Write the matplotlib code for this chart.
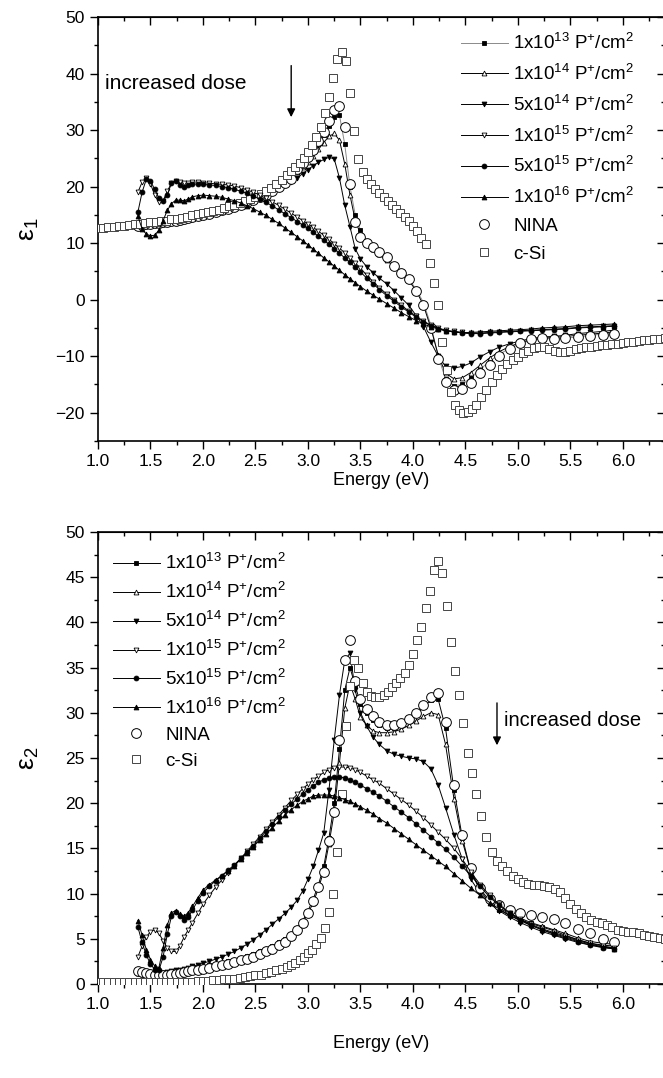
import numpy as np
import matplotlib
matplotlib.use('Agg')
import matplotlib.pyplot as plt
from matplotlib.ticker import MultipleLocator, FormatStrFormatter

plt.rcParams['font.family'] = ['Liberation Sans', 'DejaVu Sans']
plt.rcParams['mathtext.fontset'] = 'custom'
plt.rcParams['mathtext.rm'] = 'Liberation Sans'
plt.rcParams['mathtext.it'] = 'Liberation Sans:italic'
plt.rcParams['mathtext.default'] = 'regular'

# energy grid of the implanted / NINA spectra (eV)
e_imp = [1.38, 1.42, 1.46, 1.50, 1.54, 1.58, 1.62, 1.66, 1.70, 1.74, 1.78, 1.82, 1.86, 1.90,
         1.95, 2.00,
         2.06, 2.12, 2.18, 2.24, 2.30, 2.36, 2.42, 2.48, 2.54, 2.60, 2.66, 2.72, 2.78, 2.84,
         2.90, 2.95, 3.00, 3.05, 3.10, 3.15, 3.20, 3.25, 3.30, 3.35, 3.40, 3.45, 3.50,
         3.56, 3.62, 3.68,
         3.75, 3.82, 3.89, 3.96, 4.03, 4.10, 4.17, 4.24, 4.31,
         4.39, 4.47, 4.55, 4.64, 4.73, 4.82, 4.92, 5.02, 5.12, 5.23, 5.34, 5.45, 5.57, 5.69, 5.81, 5.91]

# energy grid of the c-Si reference (eV)
e_csi = [1.00, 1.05, 1.10, 1.15, 1.20, 1.25, 1.30, 1.35, 1.40, 1.45, 1.50, 1.55, 1.60, 1.65, 1.70,
         1.75, 1.80, 1.85, 1.90, 1.95, 2.00, 2.05, 2.10, 2.15, 2.20, 2.25, 2.30, 2.35, 2.40, 2.45,
         2.50, 2.55, 2.60, 2.65, 2.70, 2.75, 2.80,
         2.84, 2.88, 2.92, 2.96, 3.00, 3.04, 3.08, 3.12, 3.16, 3.20, 3.24, 3.28, 3.32, 3.36, 3.40,
         3.44, 3.48, 3.52, 3.56, 3.60, 3.64, 3.68, 3.72, 3.76, 3.80, 3.84, 3.88, 3.92, 3.96, 4.00,
         4.04, 4.08, 4.12, 4.16, 4.20, 4.24, 4.28, 4.32, 4.36, 4.40, 4.44, 4.48, 4.52, 4.56, 4.60,
         4.65, 4.70, 4.75, 4.80, 4.85, 4.90, 4.95, 5.00, 5.05, 5.10, 5.15, 5.20, 5.25, 5.30, 5.35,
         5.40, 5.45, 5.50, 5.55, 5.60, 5.65, 5.70, 5.75, 5.80, 5.85, 5.90, 5.95, 6.00, 6.05, 6.10,
         6.15, 6.20, 6.25, 6.30, 6.35, 6.40]

# ---- epsilon 1 ----
eps1_1e13 = [13.1, 13.2, 13.3, 13.4, 13.5, 13.6, 13.7, 13.8, 13.9, 14.0, 14.1, 14.25, 14.4, 14.55,
             14.75, 14.95,
             15.2, 15.5, 15.8, 16.1, 16.4, 16.8, 17.2, 17.6, 18.1, 18.6, 19.2, 19.9, 20.6, 21.4,
             22.9, 23.8, 24.9, 26.1, 27.5, 29.1, 30.8, 32.3, 32.6, 27.5, 20.0, 15.0, 12.3,
             10.3, 9.4, 8.5,
             7.4, 6.2, 5.0, 3.7, 1.8, -0.5, -4.5, -10.0, -14.0,
             -15.2, -15.0, -13.8, -12.3, -10.9, -9.7, -8.6, -7.8, -7.2, -6.9, -6.9, -6.8, -6.6, -6.3, -6.1, -5.9]
eps1_1e14 = [13.1, 13.2, 13.3, 13.4, 13.5, 13.6, 13.7, 13.8, 13.9, 14.0, 14.1, 14.25, 14.4, 14.55,
             14.75, 14.95,
             15.2, 15.5, 15.8, 16.1, 16.4, 16.8, 17.2, 17.6, 18.1, 18.6, 19.2, 19.9, 20.6, 21.4,
             22.6, 23.4, 24.3, 25.4, 26.6, 27.8, 28.9, 29.4, 28.2, 24.0, 18.5, 14.0, 11.6,
             9.8, 8.9, 8.0,
             7.0, 5.9, 4.7, 3.4, 1.6, -1.0, -5.0, -9.8, -13.0,
             -14.0, -13.8, -12.9, -11.6, -10.3, -9.2, -8.3, -7.6, -7.1, -6.8, -6.7, -6.5, -6.3, -6.1, -5.9, -5.7]
eps1_5e14 = [13.1, 13.2, 13.3, 13.4, 13.5, 13.6, 13.7, 13.8, 13.9, 14.0, 14.1, 14.25, 14.4, 14.55,
             14.75, 14.95,
             15.2, 15.5, 15.8, 16.1, 16.4, 16.8, 17.2, 17.6, 18.0, 18.5, 19.0, 19.6, 20.2, 20.9,
             21.6, 22.3, 23.0, 23.7, 24.3, 24.8, 25.2, 24.9, 21.5, 16.7, 12.9, 9.0, 7.2,
             5.8, 4.8, 3.8,
             2.8, 1.6, 0.3, -1.0, -2.8, -4.8, -7.5, -10.0, -11.8,
             -12.1, -11.8, -11.2, -10.1, -9.2, -8.4, -7.8, -7.3, -6.9, -6.6, -6.5, -6.3, -6.0, -5.8, -5.6, -5.4]
eps1_1e15 = [19.0, 20.8, 21.5, 20.5, 18.5, 17.2, 17.5, 19.2, 20.6, 21.0, 20.8, 20.6, 20.7, 20.8,
             20.8, 20.7,
             20.6, 20.5, 20.4, 20.3, 20.1, 19.8, 19.4, 19.0, 18.5, 17.9, 17.3, 16.7, 16.0, 15.3,
             14.6, 14.0, 13.4, 12.8, 12.1, 11.4, 10.7, 9.9, 9.1, 8.3, 7.4, 6.5, 5.6,
             4.3, 3.2, 2.1,
             1.0, 0.0, -1.0, -2.0, -2.9, -3.8, -4.5, -5.0, -5.4,
             -5.6, -5.8, -5.9, -5.9, -5.8, -5.7, -5.6, -5.5, -5.4, -5.3, -5.2, -5.1, -4.9, -4.8, -4.7, -4.6]
eps1_5e15 = [15.5, 19.0, 21.3, 21.0, 19.5, 18.0, 17.4, 18.6, 20.6, 21.0, 20.3, 20.0, 20.2, 20.4,
             20.5, 20.4,
             20.3, 20.2, 20.0, 19.8, 19.5, 19.2, 18.8, 18.3, 17.8, 17.2, 16.6, 15.9, 15.2, 14.5,
             13.8, 13.2, 12.6, 11.9, 11.2, 10.5, 9.8, 9.0, 8.2, 7.4, 6.6, 5.7, 4.9,
             3.8, 2.8, 1.8,
             0.7, -0.3, -1.3, -2.2, -3.1, -3.9, -4.6, -5.1, -5.5,
             -5.7, -5.9, -6.0, -6.0, -5.9, -5.8, -5.7, -5.6, -5.5, -5.4, -5.3, -5.2, -5.0, -4.9, -4.8, -4.7]
eps1_1e16 = [14.8, 12.5, 11.6, 11.3, 11.4, 12.3, 14.0, 15.8, 17.0, 17.6, 17.6, 17.5, 17.8, 18.2,
             18.4, 18.5,
             18.4, 18.3, 18.1, 17.8, 17.5, 17.1, 16.6, 16.1, 15.5, 14.9, 14.2, 13.5, 12.7, 11.9,
             11.1, 10.4, 9.7, 8.9, 8.2, 7.4, 6.7, 5.9, 5.2, 4.4, 3.7, 3.0, 2.3,
             1.5, 0.8, 0.1,
             -0.7, -1.5, -2.3, -3.0, -3.7, -4.3, -4.8, -5.2, -5.5,
             -5.7, -5.8, -5.8, -5.7, -5.6, -5.5, -5.4, -5.3, -5.2, -5.0, -4.9, -4.8, -4.6, -4.5, -4.4, -4.3]
eps1_nina = [13.1, 13.2, 13.3, 13.4, 13.5, 13.6, 13.7, 13.8, 13.9, 14.0, 14.1, 14.25, 14.4, 14.55,
             14.75, 14.95,
             15.2, 15.5, 15.8, 16.1, 16.4, 16.8, 17.2, 17.6, 18.1, 18.6, 19.2, 19.9, 20.6, 21.4,
             23.2, 24.1, 25.2, 26.5, 28.0, 29.7, 31.6, 33.5, 34.3, 30.5, 20.5, 13.8, 11.1,
             10.1, 9.3, 8.5,
             7.6, 6.0, 4.8, 3.6, 1.5, -1.0, -5.0, -10.5, -14.5,
             -16.0, -15.8, -14.8, -13.0, -11.5, -10.0, -8.7, -7.7, -7.0, -6.8, -7.0, -6.8, -6.6, -6.4, -6.2, -6.0]
eps1_csi = [12.6, 12.7, 12.8, 12.9, 13.0, 13.1, 13.2, 13.3, 13.4, 13.5, 13.7, 13.8, 13.9, 14.0, 14.2,
            14.3, 14.5, 14.7, 14.9, 15.1, 15.3, 15.5, 15.7, 15.9, 16.2, 16.5, 16.8, 17.1, 17.4, 17.8,
            18.2, 18.7, 19.2, 19.8, 20.5, 21.2, 22.0,
            22.7, 23.4, 24.2, 25.1, 26.1, 27.3, 28.7, 30.5, 33.0, 35.8, 39.2, 42.5, 43.9, 42.3, 36.5,
            29.8, 24.9, 22.6, 21.3, 20.4, 19.6, 18.9, 18.2, 17.5, 16.8, 16.1, 15.3, 14.6, 13.9, 13.1,
            12.2, 11.0, 9.8, 6.5, 3.0, -1.0, -7.5, -12.5, -16.3, -18.6, -19.6, -20.0, -19.9, -19.4, -18.6,
            -17.2, -15.9, -14.5, -13.3, -12.2, -11.4, -10.7, -10.1, -9.5, -9.0, -8.6, -8.3, -8.4, -8.8, -9.0,
            -9.2, -9.2, -9.0, -8.8, -8.6, -8.4, -8.3, -8.2, -8.1, -8.0, -7.9, -7.8, -7.6, -7.5, -7.4,
            -7.3, -7.2, -7.1, -7.0, -6.9, -6.8]

# ---- epsilon 2 ----
eps2_1e13 = [1.2, 1.1, 1.05, 1.0, 1.0, 1.05, 1.1, 1.15, 1.2, 1.3, 1.4, 1.5, 1.6, 1.7,
             1.8, 1.9,
             2.05, 2.2, 2.35, 2.5, 2.7, 2.9, 3.1, 3.35, 3.6, 3.9, 4.2, 4.6, 5.0, 5.5,
             6.2, 7.0, 8.1, 9.4, 11.0, 13.0, 16.2, 20.0, 26.0, 32.5, 35.0, 33.0, 31.0,
             30.0, 29.2, 28.6,
             28.3, 28.3, 28.6, 29.1, 29.8, 30.6, 31.4, 31.5, 28.3,
             21.5, 16.2, 12.5, 10.3, 9.0, 8.2, 7.6, 7.1, 6.7, 6.3, 5.9, 5.4, 4.9, 4.5, 4.3, 4.2]
eps2_1e14 = [1.2, 1.1, 1.05, 1.0, 1.0, 1.05, 1.1, 1.15, 1.2, 1.3, 1.4, 1.5, 1.6, 1.7,
             1.8, 1.9,
             2.05, 2.2, 2.35, 2.5, 2.7, 2.9, 3.1, 3.35, 3.6, 3.9, 4.2, 4.6, 5.0, 5.5,
             6.0, 6.8, 7.8, 9.0, 10.6, 12.5, 15.5, 19.0, 24.5, 30.5, 33.2, 31.5, 29.5,
             28.6, 28.0, 27.8,
             27.8, 27.9, 28.2, 28.6, 29.1, 29.6, 30.0, 29.8, 26.5,
             20.5, 15.8, 12.5, 10.5, 9.2, 8.4, 7.8, 7.3, 6.8, 6.4, 6.0, 5.6, 5.1, 4.7, 4.5, 4.4]
eps2_5e14 = [1.3, 1.2, 1.15, 1.1, 1.1, 1.15, 1.2, 1.3, 1.4, 1.5, 1.6, 1.7, 1.8, 1.95,
             2.1, 2.3,
             2.5, 2.75, 3.0, 3.3, 3.6, 4.0, 4.4, 4.9, 5.4, 6.0, 6.6, 7.2, 7.8, 8.5,
             9.3, 10.3, 11.6, 13.0, 14.8, 16.7, 21.5, 27.0, 32.0, 35.8, 36.6, 32.5, 30.0,
             28.5, 27.3, 26.5,
             25.8, 25.4, 25.2, 25.0, 24.9, 24.6, 23.8, 22.0, 19.5,
             16.5, 13.8, 11.6, 10.0, 8.9, 8.1, 7.4, 6.8, 6.3, 5.8, 5.4, 5.0, 4.6, 4.3, 4.1, 4.0]
eps2_1e15 = [3.0, 4.2, 5.2, 5.8, 6.0, 5.6, 4.8, 4.0, 3.6, 3.6, 4.2, 5.2, 6.0, 6.8,
             7.8, 8.8,
             9.8, 10.7, 11.5, 12.3, 13.1, 13.9, 14.7, 15.5, 16.3, 17.1, 17.9, 18.7, 19.5, 20.3,
             21.0, 21.6, 22.1, 22.6, 23.0, 23.4, 23.7, 23.9, 24.0, 24.0, 23.9, 23.7, 23.4,
             23.0, 22.6, 22.2,
             21.6, 21.0, 20.4, 19.8, 19.1, 18.4, 17.6, 16.8, 16.0,
             15.0, 13.8, 12.4, 11.0, 9.8, 8.8, 7.9, 7.2, 6.6, 6.1, 5.7, 5.3, 4.9, 4.5, 4.2, 4.0]
eps2_5e15 = [6.3, 4.6, 3.2, 2.2, 1.6, 1.5, 3.0, 5.5, 7.5, 8.0, 7.5, 7.1, 7.4, 8.2,
             9.2, 10.1,
             10.8, 11.4, 12.0, 12.6, 13.2, 13.9, 14.6, 15.3, 16.1, 16.9, 17.7, 18.5, 19.2, 19.9,
             20.5, 21.0, 21.5, 21.9, 22.3, 22.6, 22.8, 22.9, 22.9, 22.8, 22.6, 22.3, 22.0,
             21.6, 21.2, 20.8,
             20.2, 19.6, 19.0, 18.4, 17.7, 17.0, 16.3, 15.6, 14.9,
             14.0, 13.0, 12.0, 10.8, 9.6, 8.7, 7.8, 7.1, 6.5, 6.0, 5.5, 5.1, 4.7, 4.3, 4.0, 3.9]
eps2_1e16 = [7.0, 5.4, 3.8, 2.7, 2.0, 1.8, 4.0, 6.5, 7.9, 8.1, 7.7, 7.5, 7.9, 8.6,
             9.5, 10.4,
             11.0, 11.5, 12.0, 12.5, 13.1, 13.8, 14.5, 15.2, 15.9, 16.6, 17.3, 18.0, 18.7, 19.3,
             19.8, 20.2, 20.5, 20.8, 20.9, 20.9, 20.9, 20.8, 20.6, 20.4, 20.2, 19.9, 19.6,
             19.2, 18.8, 18.3,
             17.8, 17.2, 16.6, 16.0, 15.4, 14.8, 14.2, 13.6, 13.0,
             12.2, 11.4, 10.6, 9.8, 9.0, 8.3, 7.6, 7.0, 6.5, 6.0, 5.6, 5.2, 4.8, 4.4, 4.1, 3.9]
eps2_nina = [1.4, 1.3, 1.2, 1.1, 1.0, 1.0, 1.0, 1.05, 1.1, 1.15, 1.2, 1.3, 1.4, 1.5,
             1.6, 1.7,
             1.8, 1.95, 2.1, 2.25, 2.4, 2.6, 2.8, 3.0, 3.3, 3.6, 3.9, 4.3, 4.7, 5.3,
             6.0, 6.8, 7.9, 9.2, 10.7, 12.4, 15.8, 19.0, 27.0, 35.8, 38.0, 33.5, 31.5,
             30.4, 29.6, 29.0,
             28.6, 28.6, 28.9, 29.3, 30.0, 30.9, 31.8, 32.2, 29.0,
             22.0, 16.5, 12.8, 10.6, 9.4, 8.7, 8.2, 7.8, 7.6, 7.4, 7.2, 6.8, 6.1, 5.6, 5.0, 4.7]
eps2_csi = [0.2, 0.2, 0.2, 0.2, 0.2, 0.2, 0.2, 0.2, 0.2, 0.2, 0.2, 0.2, 0.2, 0.2, 0.2,
            0.2, 0.2, 0.25, 0.25, 0.3, 0.3, 0.35, 0.4, 0.45, 0.5, 0.55, 0.6, 0.65, 0.75, 0.85,
            0.95, 1.05, 1.2, 1.35, 1.5, 1.7, 1.9,
            2.1, 2.35, 2.65, 3.0, 3.4, 3.8, 4.4, 5.1, 6.2, 8.0, 10.0, 14.6, 21.0, 28.5, 33.0,
            35.8, 35.0, 33.3, 32.3, 31.9, 31.7, 31.8, 32.0, 32.3, 32.8, 33.3, 33.9, 34.4, 35.3, 36.5,
            38.0, 39.5, 41.6, 43.5, 45.8, 46.8, 45.5, 41.8, 37.8, 34.6, 32.0, 28.9, 25.6, 23.3, 21.0,
            18.6, 16.3, 14.6, 13.6, 13.0, 12.5, 12.0, 11.6, 11.3, 11.1, 11.0, 10.9, 10.8, 10.7, 10.5,
            10.2, 9.5, 8.9, 8.3, 7.8, 7.4, 7.1, 6.9, 6.7, 6.5, 6.3, 6.0, 5.9, 5.8, 5.7,
            5.6, 5.4, 5.3, 5.2, 5.1, 5.0]

labels = [r'1x10$^{13}$ P$^{+}$/cm$^{2}$', r'1x10$^{14}$ P$^{+}$/cm$^{2}$',
          r'5x10$^{14}$ P$^{+}$/cm$^{2}$', r'1x10$^{15}$ P$^{+}$/cm$^{2}$',
          r'5x10$^{15}$ P$^{+}$/cm$^{2}$', r'1x10$^{16}$ P$^{+}$/cm$^{2}$',
          'NINA', 'c-Si']
markers = ['s', '^', 'v', 'v', 'o', '^']
faces = ['black', 'white', 'black', 'white', 'black', 'black']

FS = 12.5


def draw_panel(ax, implanted, nina, csi, first_line_color):
    handles = [None] * 8
    # low-dose series sit under the c-Si band
    for i in range(3):
        lc = first_line_color if i == 0 else 'black'
        handles[i], = ax.plot(e_imp, implanted[i], color=lc, lw=0.7, marker=markers[i],
                              ms=3.5, mfc=faces[i], mec='black', mew=0.6, zorder=3)
    handles[6], = ax.plot(e_imp, nina, ls='none', marker='o', ms=7, mfc='white',
                          mec='black', mew=0.7, zorder=4)
    handles[7], = ax.plot(e_csi, csi, ls='none', marker='s', ms=6.3, mfc='white',
                          mec='#454545', mew=0.7, zorder=5)
    for i in range(3, 6):
        handles[i], = ax.plot(e_imp, implanted[i], color='black', lw=0.7, marker=markers[i],
                              ms=3.5, mfc=faces[i], mec='black', mew=0.6, zorder=6)

    ax.set_xlim(1.0, 6.4)
    ax.xaxis.set_major_locator(MultipleLocator(0.5))
    ax.xaxis.set_minor_locator(MultipleLocator(0.25))
    ax.xaxis.set_major_formatter(FormatStrFormatter('%.1f'))
    ax.tick_params(which='major', direction='out', length=6, width=1.0, labelsize=FS)
    ax.tick_params(which='minor', direction='out', length=3, width=1.0)
    for s in ax.spines.values():
        s.set_linewidth(1.2)

    top = ax.secondary_xaxis('top')
    top.xaxis.set_major_locator(MultipleLocator(0.5))
    top.xaxis.set_minor_locator(MultipleLocator(0.25))
    top.tick_params(which='major', direction='in', length=6, width=1.0, labeltop=False)
    top.tick_params(which='minor', direction='in', length=3, width=1.0)
    return handles


fig = plt.figure(figsize=(6.63, 10.78), dpi=100)

# ---- top panel ----
ax1 = fig.add_axes([0.1478, 0.5909, 0.8552, 0.3933])
h1 = draw_panel(ax1, [eps1_1e13, eps1_1e14, eps1_5e14, eps1_1e15, eps1_5e15, eps1_1e16],
                eps1_nina, eps1_csi, '#8a8a8a')
ax1.set_ylim(-25, 50)
ax1.yaxis.set_major_locator(MultipleLocator(10))
ax1.yaxis.set_minor_locator(MultipleLocator(5))
r1 = ax1.secondary_yaxis('right')
r1.yaxis.set_major_locator(MultipleLocator(10))
r1.yaxis.set_minor_locator(MultipleLocator(5))
r1.tick_params(which='major', direction='in', length=6, width=1.0, labelright=False)
r1.tick_params(which='minor', direction='in', length=3, width=1.0)
ax1.set_xlabel('Energy (eV)', fontsize=13)
ax1.xaxis.set_label_coords(0.5, -0.074)
ax1.set_ylabel('ε$_1$', fontsize=19)
ax1.yaxis.set_label_coords(-0.1, 0.5)
ax1.legend(h1, labels, loc='upper left', bbox_to_anchor=(0.64, 0.962), frameon=False,
           fontsize=13.5, handlelength=2.5, handletextpad=0.3, labelspacing=0.57,
           borderpad=0, borderaxespad=0)
ax1.annotate('', xy=(2.84, 31.8), xytext=(2.84, 41.9),
             arrowprops=dict(arrowstyle='-|>', color='black', lw=1.0, mutation_scale=12))
ax1.text(1.07, 38.3, 'increased dose', fontsize=15, ha='left', va='center')

# ---- bottom panel ----
ax2 = fig.add_axes([0.1478, 0.0872, 0.8552, 0.4193])
h2 = draw_panel(ax2, [eps2_1e13, eps2_1e14, eps2_5e14, eps2_1e15, eps2_5e15, eps2_1e16],
                eps2_nina, eps2_csi, 'black')
ax2.set_ylim(0, 50)
ax2.yaxis.set_major_locator(MultipleLocator(5))
ax2.yaxis.set_minor_locator(MultipleLocator(2.5))
r2 = ax2.secondary_yaxis('right')
r2.yaxis.set_major_locator(MultipleLocator(5))
r2.yaxis.set_minor_locator(MultipleLocator(2.5))
r2.tick_params(which='major', direction='in', length=6, width=1.0, labelright=False)
r2.tick_params(which='minor', direction='in', length=3, width=1.0)
ax2.set_xlabel('Energy (eV)', fontsize=13)
ax2.xaxis.set_label_coords(0.5, -0.112)
ax2.set_ylabel('ε$_2$', fontsize=19)
ax2.yaxis.set_label_coords(-0.1, 0.5)
ax2.legend(h2, labels, loc='upper left', bbox_to_anchor=(0.026, 0.953), frameon=False,
           fontsize=13.5, handlelength=2.5, handletextpad=0.3, labelspacing=0.47,
           borderpad=0, borderaxespad=0)
ax2.annotate('', xy=(4.80, 26.1), xytext=(4.80, 31.4),
             arrowprops=dict(arrowstyle='-|>', color='black', lw=1.0, mutation_scale=12))
ax2.text(4.87, 29.2, 'increased dose', fontsize=14.5, ha='left', va='center')

fig.savefig('out.png', dpi=100)
